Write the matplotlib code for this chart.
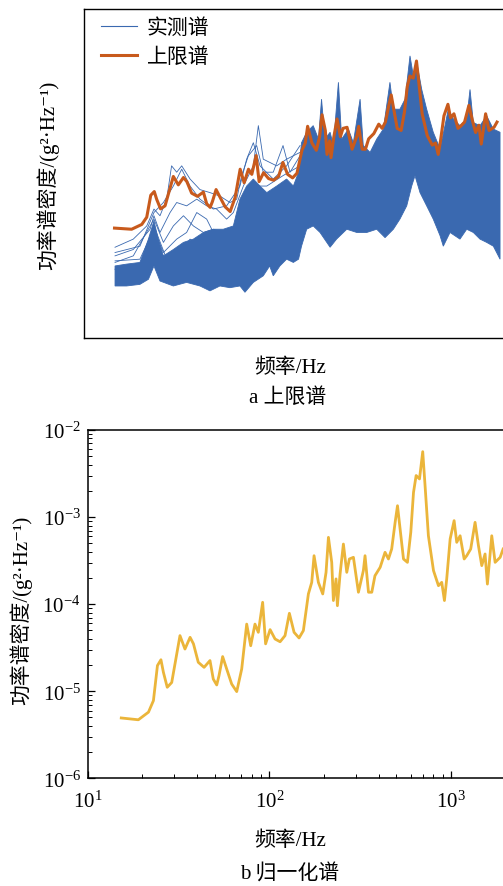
import numpy as np
import matplotlib
matplotlib.use("Agg")
import matplotlib.pyplot as plt
from matplotlib.lines import Line2D

plt.rcParams["font.family"] = ["Liberation Serif", "Noto Sans CJK SC", "DejaVu Serif"]
plt.rcParams["mathtext.fontset"] = "custom"
plt.rcParams["mathtext.rm"] = "Liberation Serif"
plt.rcParams["mathtext.it"] = "Liberation Serif:italic"
plt.rcParams["mathtext.bf"] = "Liberation Serif:bold"

BLUE = "#3a69b0"
ORANGE = "#c85a1c"
YELLOW = "#ebb53a"

# --- upper-limit / normalised spectrum (Hz, g^2/Hz) ---
freq = [15.3, 19.0, 21.6, 23.0, 24.2, 25.3, 26.1, 27.4, 29.0, 32.2,
        34.3, 36.6, 38.2, 40.6, 43.7, 47.1, 49.1, 51.3, 52.8, 55.3,
        58.2, 62.0, 66.1, 70.4, 75.0, 78.9, 83.3, 86.9, 91.8, 95.3,
        100.9, 107.4, 114.5, 121.9, 128.8, 136.7, 145.6, 153.8, 163.9, 171.0,
        176.1, 186.0, 196.6, 205, 211.3, 220.3, 225, 232.7, 236.7, 244.9,
        255.4, 266.6, 275.5, 290, 309, 329, 336, 351, 366, 381,
        407, 433, 452, 471, 492, 507, 524, 547, 575, 600,
        621, 642, 670, 698, 719, 750, 800, 852, 888, 919,
        946, 988, 1039, 1074, 1121, 1180, 1219, 1282, 1355, 1414,
        1475, 1538, 1584, 1674, 1747, 1862, 1933]
psd = [4.93e-6, 4.7e-6, 5.75e-6, 7.8e-6, 1.97e-5, 2.3e-5, 1.65e-5, 1.11e-5, 1.26e-5, 4.35e-5,
       3.05e-5, 4.16e-5, 3.5e-5, 2.15e-5, 1.88e-5, 2.25e-5, 1.38e-5, 1.18e-5, 1.51e-5, 2.5e-5,
       1.8e-5, 1.21e-5, 9.9e-6, 1.8e-5, 5.9e-5, 3.33e-5, 5.9e-5, 4.75e-5, 1.05e-4, 3.5e-5,
       5.1e-5, 3.98e-5, 3.7e-5, 4.35e-5, 7.85e-5, 4.75e-5, 4.09e-5, 4.97e-5, 1.31e-4, 1.78e-4,
       3.6e-4, 1.78e-4, 1.31e-4, 2.32e-4, 5.85e-4, 3.02e-4, 1.1e-4, 1.95e-4, 9.6e-5, 2.22e-4,
       4.9e-4, 2.32e-4, 3.3e-4, 3.45e-4, 1.37e-4, 2.43e-4, 3.6e-4, 1.37e-4, 1.37e-4, 2.12e-4,
       2.65e-4, 3.94e-4, 3.3e-4, 4.3e-4, 8.7e-4, 1.35e-3, 7.3e-4, 3.3e-4, 3.02e-4, 6.7e-4,
       1.92e-3, 3.0e-3, 2.74e-3, 5.64e-3, 2.29e-3, 6.1e-4, 2.43e-4, 1.63e-4, 1.78e-4, 1.1e-4,
       1.95e-4, 5.6e-4, 9.1e-4, 5.13e-4, 6.1e-4, 3.3e-4, 3.6e-4, 4.3e-4, 8.7e-4, 4.7e-4,
       2.77e-4, 3.77e-4, 1.7e-4, 6.1e-4, 3.02e-4, 3.45e-4, 4.3e-4]

# --- measured spectra: dense band (upper / lower edge) ---
band_top_f = [15.4, 17.8, 21.1, 23.5, 25.2, 26.6, 28.4, 32.2, 36.6, 41.5,
              47.1, 53.4, 60.6, 68.8, 74.8, 81.4, 88.6, 96.4, 105, 119,
              135, 147, 157, 163, 174, 189, 202, 210, 219, 234,
              244, 260, 271, 295, 314, 342, 356, 388, 422, 459,
              499, 521, 566, 604, 643, 671, 706, 746, 794, 863,
              940, 1001, 1044, 1113, 1210, 1318, 1374, 1433, 1559, 1696,
              1846, 2009]
band_top_psd = [1.0e-6, 1.08e-6, 1.16e-6, 3.1e-6, 6.7e-6, 3.1e-6, 1.53e-6, 2.0e-6, 2.7e-6, 3.1e-6,
                4.1e-6, 4.7e-6, 4.7e-6, 5.4e-6, 1.67e-5, 2.9e-5, 3.9e-5, 2.9e-5, 2.2e-5, 2.9e-5,
                3.9e-5, 2.9e-5, 5.2e-5, 1.8e-4, 2.8e-4, 3.7e-4, 2.1e-4, 1.13e-3, 2.1e-4, 2.8e-4,
                1.6e-4, 2.3e-3, 2.1e-4, 3.2e-4, 1.8e-4, 1.13e-3, 1.6e-4, 1.2e-4, 2.1e-4, 3.2e-4,
                2.3e-3, 7.4e-4, 7.4e-4, 1.13e-3, 7.0e-3, 3.0e-3, 4.6e-3, 1.7e-3, 7.4e-4, 2.8e-4,
                1.4e-4, 3.7e-4, 7.4e-4, 4.9e-4, 3.7e-4, 4.9e-4, 1.7e-3, 4.2e-4, 3.7e-4, 5.6e-4,
                3.2e-4, 2.8e-4]
band_bot_f = [15.4, 17.8, 21.1, 23.5, 25.2, 27.2, 32.2, 38.1, 45.1, 51.2,
              58.1, 65.9, 74.8, 79.7, 88.6, 100.5, 109, 114, 124, 135,
              147, 157, 163, 174, 189, 206, 234, 254, 289, 328,
              372, 422, 469, 521, 566, 617, 657, 685, 730, 794,
              863, 940, 980, 1067, 1210, 1318, 1433, 1559, 1696, 1846,
              2009]
band_bot_psd = [4.3e-7, 4.3e-7, 4.6e-7, 5.7e-7, 1.0e-6, 5.3e-7, 4.3e-7, 5.0e-7, 4.3e-7, 3.5e-7,
                4.3e-7, 4.0e-7, 4.3e-7, 3.3e-7, 5.0e-7, 6.6e-7, 1.0e-6, 6.6e-7, 1.0e-6, 1.33e-6,
                1.16e-6, 1.33e-6, 2.3e-6, 4.7e-6, 5.4e-6, 4.1e-6, 2.2e-6, 3.1e-6, 4.7e-6, 4.1e-6,
                4.1e-6, 4.7e-6, 3.3e-6, 4.7e-6, 7.2e-6, 1.26e-5, 2.9e-5, 4.5e-5, 2.2e-5, 1.26e-5,
                7.2e-6, 3.6e-6, 2.3e-6, 4.1e-6, 3.1e-6, 4.7e-6, 4.1e-6, 3.1e-6, 2.7e-6, 2.3e-6,
                1.33e-6]

# --- individual measured spectra standing out at low frequency ---
s1_f = [15.4, 19.4, 23.0, 25.2, 27.2, 29.6, 31.5, 33.6, 35.8, 39.8, 45.1, 51.2,
        58.1, 65.9, 71.8, 76.4, 83.2, 92.4, 100.5, 114, 129, 141, 160]
s1_psd = [2.2e-6, 3.1e-6, 5.4e-6, 1.1e-5, 8.3e-6, 1.67e-5, 6.8e-5, 5.2e-5, 6.8e-5, 3.9e-5, 2.5e-5, 2.2e-5,
          1.9e-5, 1.45e-5, 1.67e-5, 4.5e-5, 1.04e-4, 1.6e-4, 5.2e-5, 5.2e-5, 1.6e-4, 5.2e-5, 1.04e-4]
s2_f = [15.4, 19.4, 24.0, 25.2, 27.2, 30.9, 33.6, 38.1, 43.3, 49.1, 55.7, 63.2,
        68.8, 78.1, 88.6, 94.4, 100.5, 119, 135, 160]
s2_psd = [1.53e-6, 2.0e-6, 4.7e-6, 8.3e-6, 4.1e-6, 9.5e-6, 1.45e-5, 1.26e-5, 1.67e-5, 1.26e-5, 1.1e-5, 7.2e-6,
          9.5e-6, 2.9e-5, 6.8e-5, 3.7e-4, 9.0e-5, 6.8e-5, 9.0e-5, 1.2e-4]
s3_f = [15.4, 19.4, 25.2, 28.4, 32.2, 36.6, 41.5, 47.1, 53.4, 60.6, 68.8, 78.1,
        88.6, 105, 129, 160]
s3_psd = [1.16e-6, 1.53e-6, 7.2e-6, 2.7e-6, 5.4e-6, 8.3e-6, 5.4e-6, 4.1e-6, 4.7e-6, 4.1e-6, 4.1e-6, 1.26e-5,
          2.9e-5, 2.9e-5, 4.5e-5, 6.8e-5]
s4_f = [15.4, 21.1, 25.2, 28.4, 33.6, 38.1, 43.3, 49.1, 55.7, 63.2, 71.8]
s4_psd = [1.24e-6, 1.33e-6, 4.7e-6, 1.76e-6, 3.1e-6, 4.1e-6, 9.5e-6, 7.2e-6, 3.1e-6, 2.7e-6, 3.1e-6]
s5_f = [15.4, 21.1, 25.2, 29.6, 35.0, 39.8, 45.1, 53.4, 63.2, 74.8]
s5_psd = [8.7e-7, 1.0e-6, 5.4e-6, 1.33e-6, 1.76e-6, 3.1e-6, 2.3e-6, 4.1e-6, 2.3e-6, 4.1e-6]
s6_f = [15.4, 21.1, 25.2, 28.4, 32.2, 35.8, 39.8, 45.1, 53.4, 63.2, 74.8, 81.4,
        88.6, 96.4, 114, 135, 160]
s6_psd = [1.76e-6, 2.3e-6, 9.5e-6, 1.45e-5, 2.9e-5, 5.9e-5, 2.9e-5, 1.67e-5, 1.1e-5, 1.26e-5, 2.9e-5, 9.0e-5,
          1.8e-4, 6.8e-5, 3.9e-5, 6.8e-5, 1.6e-4]
strays = [(s1_f, s1_psd), (s2_f, s2_psd), (s3_f, s3_psd),
          (s4_f, s4_psd), (s5_f, s5_psd), (s6_f, s6_psd)]

W, H = 503, 887
fig = plt.figure(figsize=(W / 100, H / 100), dpi=100)


def box(l, t, r, b):
    return [l / W, 1 - b / H, (r - l) / W, (b - t) / H]


# ---------------- a: measured spectra + upper limit ----------------
ax1 = fig.add_axes(box(84, 10, 518, 339))
ax1.set_xscale("log"); ax1.set_yscale("log")
ax1.set_xlim(10.4, 10 ** (np.log10(10.4) + (518 - 84) / 182))
ax1.set_ylim(4.8e-8, 5.05e-2)
ax1.fill(np.r_[band_top_f, band_bot_f[::-1]], np.r_[band_top_psd, band_bot_psd[::-1]],
         color=BLUE, lw=0.6, ec=BLUE)
for f, p in strays:
    ax1.plot(f, p, color=BLUE, lw=0.6)
ax1.plot(freq, psd, color=ORANGE, lw=2.2)
ax1.tick_params(which="both", bottom=False, left=False, labelbottom=False, labelleft=False)
for s in ax1.spines.values():
    s.set_linewidth(1.0)
handles = [Line2D([], [], color=BLUE, lw=0.8), Line2D([], [], color=ORANGE, lw=2.2)]
ax1.legend(handles, ["实测谱", "上限谱"], loc="upper left", bbox_to_anchor=(0.01, 1.01),
           frameon=False, fontsize=15, handlelength=1.75, handletextpad=0.45,
           labelspacing=0.45, borderaxespad=0.2)

fig.text(48 / W, 1 - 175 / H, "功率谱密度/(g²·Hz⁻¹)", rotation=90, ha="center", va="center", fontsize=15)
fig.text(290 / W, 1 - 368 / H, "频率/Hz", ha="center", va="center", fontsize=15)
fig.text(288 / W, 1 - 398 / H, "a 上限谱", ha="center", va="center", fontsize=15)

# ---------------- b: normalised spectrum ----------------
ax2 = fig.add_axes(box(87.7, 431, 518, 779.3))
ax2.set_xscale("log"); ax2.set_yscale("log")
ax2.set_xlim(10, 10 ** (1 + (518 - 87.7) / 181.7))
ax2.set_ylim(1e-6, 1e-2)
ax2.plot(freq, psd, color=YELLOW, lw=2.0)
ax2.tick_params(which="both", direction="in", top=False, right=False, labelsize=15)
ax2.tick_params(which="major", length=5, width=0.9)
ax2.tick_params(which="minor", length=3, width=0.7)
ax2.tick_params(axis="x", which="both", pad=9)
ax2.tick_params(axis="y", which="both", pad=5)
for s in ax2.spines.values():
    s.set_linewidth(1.1)

fig.text(21 / W, 1 - 610 / H, "功率谱密度/(g²·Hz⁻¹)", rotation=90, ha="center", va="center", fontsize=15)
fig.text(290 / W, 1 - 841 / H, "频率/Hz", ha="center", va="center", fontsize=15)
fig.text(290 / W, 1 - 875 / H, "b 归一化谱", ha="center", va="center", fontsize=15)

fig.savefig("out.png", dpi=100)
